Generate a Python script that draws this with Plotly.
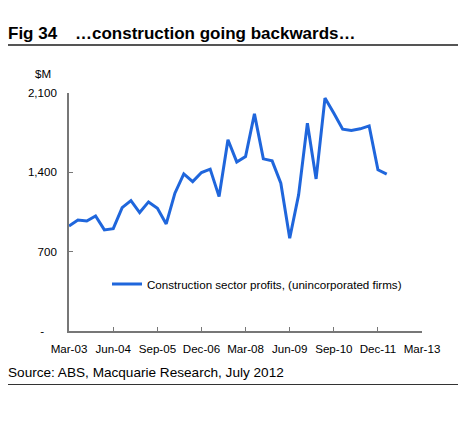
import plotly.graph_objects as go

# quarterly, Mar-03 to Mar-12 ($M)
quarters = [
    "2003-03-01", "2003-06-01", "2003-09-01", "2003-12-01",
    "2004-03-01", "2004-06-01", "2004-09-01", "2004-12-01",
    "2005-03-01", "2005-06-01", "2005-09-01", "2005-12-01",
    "2006-03-01", "2006-06-01", "2006-09-01", "2006-12-01",
    "2007-03-01", "2007-06-01", "2007-09-01", "2007-12-01",
    "2008-03-01", "2008-06-01", "2008-09-01", "2008-12-01",
    "2009-03-01", "2009-06-01", "2009-09-01", "2009-12-01",
    "2010-03-01", "2010-06-01", "2010-09-01", "2010-12-01",
    "2011-03-01", "2011-06-01", "2011-09-01", "2011-12-01",
    "2012-03-01",
]
profits = [
    927, 980, 971, 1015,
    892, 903, 1089, 1151,
    1045, 1139, 1083, 945,
    1216, 1386, 1318, 1398,
    1428, 1186, 1687, 1492,
    1540, 1916, 1519, 1501,
    1304, 819, 1201, 1834,
    1342, 2055, 1922, 1781,
    1769, 1784, 1810, 1422,
    1384,
]
y_ticks = [0, 700, 1400, 2100]
y_labels = ["-\u00a0\u00a0\u00a0\u00a0", "700", "1,400", "2,100"]

FONT = "Liberation Sans, Arial, sans-serif"
OFF = 8  # page body margin
W, H = 470 - OFF, 422 - OFF
L, R, T, B = 69, 422, 93, 331  # plot area, page pixels


def px_x(p):
    return (p - L) / (R - L)


def px_y(p):
    return (B - p) / (B - T)


fig = go.Figure()
fig.add_trace(
    go.Scatter(
        x=quarters,
        y=profits,
        mode="lines",
        name="Construction sector profits, (unincorporated firms)",
        line=dict(color="#1f66dc", width=3),
    )
)

fig.update_layout(
    width=W,
    height=H,
    margin=dict(l=L - OFF, r=W + OFF - R, t=T - OFF, b=H + OFF - B, pad=0),
    paper_bgcolor="white",
    plot_bgcolor="white",
    font=dict(family=FONT, size=11.6, color="black"),
    showlegend=True,
    legend=dict(
        x=px_x(107),
        y=px_y(284),
        xanchor="left",
        yanchor="middle",
        bgcolor="rgba(0,0,0,0)",
        font=dict(size=11.6),
    ),
    xaxis=dict(
        type="date",
        range=["2003-03-01", "2013-03-01"],
        tick0="2003-03-01",
        dtick="M15",
        tickformat="%b-%y",
        ticks="inside",
        ticklen=4,
        tickcolor="#777",
        showline=True,
        linecolor="#777",
        linewidth=1.5,
        showgrid=False,
        zeroline=False,
        ticklabelstandoff=6,
    ),
    yaxis=dict(
        range=[0, 2100],
        tickvals=y_ticks,
        ticktext=y_labels,
        ticks="inside",
        ticklen=4,
        tickcolor="#777",
        showline=True,
        linecolor="#777",
        linewidth=1.5,
        showgrid=False,
        zeroline=False,
        ticklabelstandoff=8,
    ),
)

fig.add_annotation(
    text="<b>Fig 34</b>", xref="paper", yref="paper",
    x=px_x(6), y=px_y(33), xanchor="left", yanchor="middle",
    showarrow=False, font=dict(size=17),
)
fig.add_annotation(
    text="<b>\u2026construction going backwards\u2026</b>", xref="paper", yref="paper",
    x=px_x(73), y=px_y(33), xanchor="left", yanchor="middle",
    showarrow=False, font=dict(size=17),
)
fig.add_annotation(
    text="$M", xref="paper", yref="paper",
    x=px_x(43), y=px_y(73), xanchor="center", yanchor="middle",
    showarrow=False, font=dict(size=11.6),
)
fig.add_annotation(
    text="Source: ABS, Macquarie Research, July 2012", xref="paper", yref="paper",
    x=px_x(6), y=px_y(372), xanchor="left", yanchor="middle",
    showarrow=False, font=dict(size=13.6),
)
fig.add_shape(
    type="line", xref="paper", yref="paper",
    x0=px_x(6), x1=px_x(458), y0=px_y(45), y1=px_y(45),
    line=dict(color="#555", width=2),
)
fig.add_shape(
    type="line", xref="paper", yref="paper",
    x0=px_x(6), x1=px_x(458), y0=px_y(384.5), y1=px_y(384.5),
    line=dict(color="#333", width=1),
)

fig.write_html("out.html")
